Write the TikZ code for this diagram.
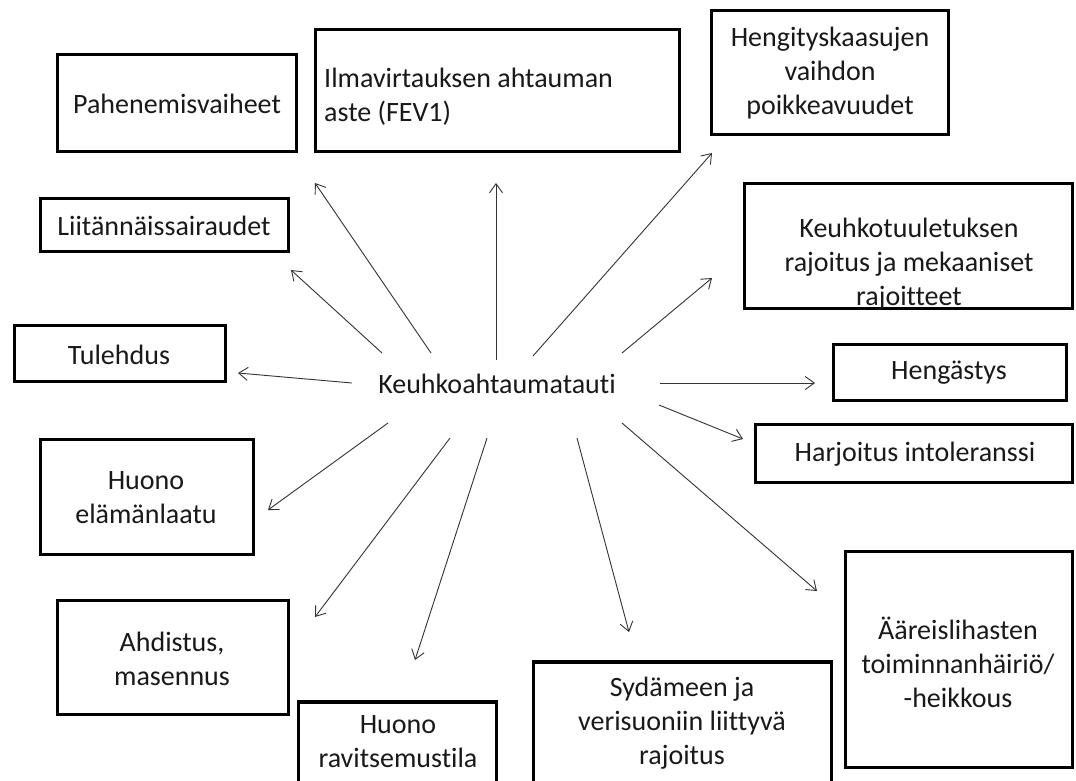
\documentclass[tikz,border=0pt]{standalone}
\usepackage{fontspec}
\setmainfont{Carlito}[Ligatures={NoCommon}]
\usetikzlibrary{arrows.meta}
\tikzset{
  box/.style={draw=black, line width=3.2pt, rectangle, inner sep=0pt, fill=none},
  lbl/.style={inner sep=0pt, align=center, text=black!90, font=\fontsize{28}{34}\selectfont},
  arr/.style={draw=black!80, line width=0.9pt, -{Straight Barb[length=9pt,width=13pt,line width=0.9pt]}}
}
\begin{document}
\begin{tikzpicture}[x=1pt,y=-1pt]
\clip (0,0) rectangle (1076,780);
\fill[white] (0,0) rectangle (1076,780);
% boxes
\node[box, minimum width=239pt, minimum height=97pt] (b1) at (177,103) {};
\node[box, minimum width=364pt, minimum height=122pt] (b2) at (497.5,90.5) {};
\node[box, minimum width=237pt, minimum height=124pt] (b3) at (830,72.5) {};
\node[box, minimum width=248pt, minimum height=53pt] (b4) at (164.5,225) {};
\node[box, minimum width=328pt, minimum height=125pt] (b5) at (908.5,246) {};
\node[box, minimum width=211pt, minimum height=56pt] (b6) at (120,353.5) {};
\node[box, minimum width=233pt, minimum height=56pt] (b7) at (950,372.5) {};
\node[box, minimum width=317pt, minimum height=58pt] (b8) at (914,453.5) {};
\node[box, minimum width=213pt, minimum height=115pt] (b9) at (147,497) {};
\node[box, minimum width=227pt, minimum height=216pt] (b10) at (959,659.5) {};
\node[box, minimum width=231pt, minimum height=114pt] (b11) at (173,657.5) {};
\node[box, minimum width=298pt, minimum height=150pt] (b12) at (682.5,737) {};
\node[box, minimum width=198pt, minimum height=110pt] (b13) at (397.5,757) {};
% texts
\node[lbl] (t1) at (177,104) {Pahenemisvaiheet};
\node[lbl, anchor=west, align=left] (t2) at (324,97) {Ilmavirtauksen ahtauman\\aste (FEV1)};
\node[lbl] (t3) at (830,73) {Hengityskaasujen\\vaihdon\\poikkeavuudet};
\node[lbl] (t4) at (164,226) {Liitännäissairaudet};
\node[lbl] (t5) at (909,264) {Keuhkotuuletuksen\\rajoitus ja mekaaniset\\rajoitteet};
\node[lbl] (t6) at (119,355) {Tulehdus};
\node[lbl] (k) at (497,384) {Keuhkoahtaumatauti};
\node[lbl] (t7) at (949,373) {Hengästys};
\node[lbl] (t8) at (915,454) {Harjoitus intoleranssi};
\node[lbl] (t9) at (146,498) {Huono\\elämänlaatu};
\node[lbl] (t10) at (958,662) {Ääreislihasten\\toiminnanhäiriö/\\-heikkous};
\node[lbl] (t11) at (172,659) {Ahdistus,\\masennus};
\node[lbl] (t12) at (682,723) {Sydämeen ja\\verisuoniin liittyvä\\rajoitus};
\node[lbl] (t13) at (398,742) {Huono\\ravitsemustila};
% arrow ends
\coordinate (s1) at (431,353);  \coordinate (e1) at (315,183);
\coordinate (s2) at (496,360);  \coordinate (e2) at (496,183);
\coordinate (s3) at (533,356);  \coordinate (e3) at (712,153);
\coordinate (s4) at (382,353);  \coordinate (e4) at (291,270);
\coordinate (s5) at (622,353);  \coordinate (e5) at (712,278);
\coordinate (s6) at (352,383);  \coordinate (e6) at (238,373);
\coordinate (s7) at (660,383);  \coordinate (e7) at (815,383);
\coordinate (s8) at (659,405);  \coordinate (e8) at (743,439);
\coordinate (s9) at (388,423);  \coordinate (e9) at (268,510);
\coordinate (s10) at (622,423); \coordinate (e10) at (817,591);
\coordinate (s11) at (450,438); \coordinate (e11) at (315,617);
\coordinate (s12) at (577,438); \coordinate (e12) at (629,632);
\coordinate (s13) at (487,438); \coordinate (e13) at (415,660);
\foreach \i in {1,...,13} { \draw[arr] (s\i) -- (e\i); }
\end{tikzpicture}
\end{document}
